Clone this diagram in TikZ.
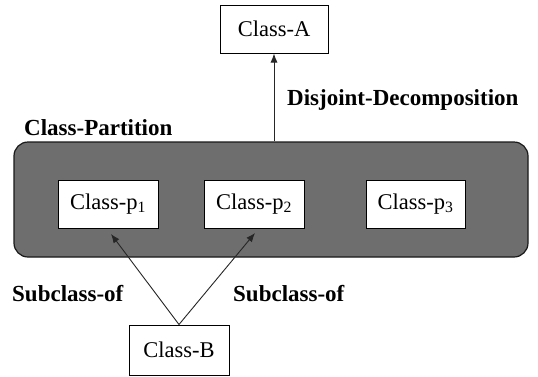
\documentclass[tikz,border=0pt]{standalone}
\usepackage{fontspec}
\setmainfont{Liberation Serif}
\usetikzlibrary{arrows.meta}
\begin{document}
\begin{tikzpicture}[x=1pt,y=-1pt,
  classbox/.style={draw=black,line width=1pt,fill=white,minimum width=100pt,minimum height=48pt,inner sep=0pt,font=\fontsize{22.5}{26}\selectfont},
  rel/.style={font=\bfseries\fontsize{23}{27}\selectfont,inner sep=0pt},
  link/.style={draw=black!85,line width=0.9pt,-{Latex[length=9pt,width=7pt]}}]
\useasboundingbox[fill=white] (0,0) rectangle (538,376);
% partition container
\node[draw=black!90,line width=1.2pt,fill=black!57,rounded corners=14pt,minimum width=514pt,minimum height=115pt,inner sep=0pt] (part) at (271,199.5) {};
\node[rel,anchor=west] (partlbl) at (24,128) {Class-Partition};
% classes
\node[classbox,minimum width=108pt] (A) at (274,29) {Class-A};
\node[classbox] (p1) at (108,204) {Class-p\textsubscript{1}};
\node[classbox] (p2) at (254,204) {Class-p\textsubscript{2}};
\node[classbox,minimum width=99pt] (p3) at (415.5,204) {Class-p\textsubscript{3}};
\node[classbox,minimum height=50pt] (B) at (179,350) {Class-B};
% relations
\node[rel,anchor=west] (dd) at (287,100) {Disjoint-Decomposition};
\node[rel,anchor=west] (s1) at (12,294) {Subclass-of};
\node[rel,anchor=west] (s2) at (233,294) {Subclass-of};
\draw[link] (part.north -| A.south) -- (A.south);
\coordinate (t1) at (111,234);
\coordinate (t2) at (255,233);
\draw[link] (B.north) -- (t1);
\draw[link] (B.north) -- (t2);
\end{tikzpicture}
\end{document}
